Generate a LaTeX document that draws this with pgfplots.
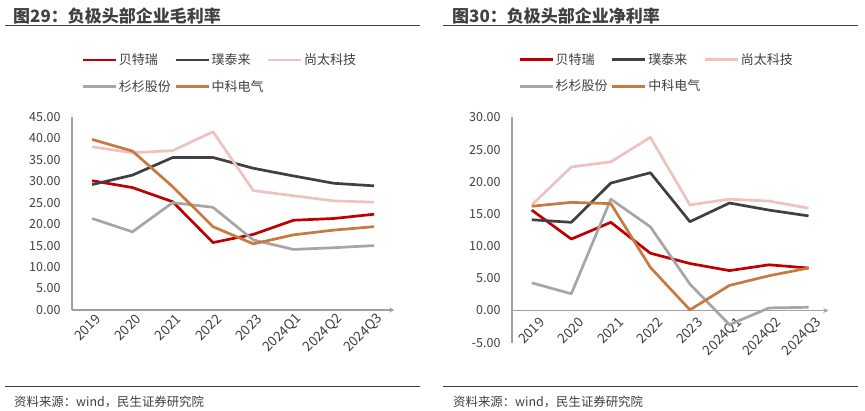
\documentclass[border=0pt]{standalone}
\usepackage{fontspec}
\setmainfont{Noto Sans CJK SC}
\usepackage{pgfplots}
\pgfplotsset{compat=1.18}

\definecolor{cRed}{HTML}{C00000}
\definecolor{cDark}{HTML}{404040}
\definecolor{cPink}{HTML}{EFC2C2}
\definecolor{cGray}{HTML}{A6A6A6}
\definecolor{cOrange}{HTML}{C67A42}
\definecolor{cText}{HTML}{404040}
\definecolor{cAxis}{HTML}{A0A0A0}

\pgfplotsset{
  panel/.style={
    scale only axis,
    xmin=-0.5, xmax=7.5,
    axis y line=left,
    axis line style={cAxis, line width=1.2pt, -},
    major tick length=0pt,
    xtick={0,...,7},
    xticklabels={2019,2020,2021,2022,2023,2024Q1,2024Q2,2024Q3},
    xticklabel style={rotate=45, anchor=east, font=\fontsize{13.5}{13.5}\selectfont, text=cText},
    yticklabel style={font=\fontsize{12.5}{12.5}\selectfont, text=cText, xshift=-8pt},
    /pgf/number format/.cd, fixed, fixed zerofill, precision=2, assume math mode=true,
    /pgfplots/.cd,
    every axis plot/.append style={line width=2.7pt, line join=round, no marks},
    legend columns=3,
    legend cell align=left,
    legend image code/.code={\draw[##1, line width=2.7pt] (0pt,0pt) -- (33pt,0pt);},
    legend style={draw=none, fill=none, font=\fontsize{13}{13}\selectfont, text=cText,
      anchor=north west, row sep=11pt,
      nodes={inner sep=1.5pt},
      /tikz/every even column/.append style={column sep=2pt}},
  }
}

\begin{document}
\begin{tikzpicture}[x=1pt,y=1pt]
\path[fill=white, use as bounding box] (0,0) rectangle (865,410);

% headers and footers
\node[anchor=west, font=\bfseries\fontsize{17}{17}\selectfont, text=cText, inner sep=0pt] at (13,394) {图29：负极头部企业毛利率};
\node[anchor=west, font=\bfseries\fontsize{17}{17}\selectfont, text=cText, inner sep=0pt] at (452,394) {图30：负极头部企业净利率};
\draw[cText, line width=1pt] (5,384) -- (420,384);
\draw[cText, line width=1pt] (443,384) -- (858,384);
\draw[cText, line width=1pt] (5,23.3) -- (420,23.3);
\draw[cText, line width=1pt] (443,23.3) -- (858,23.3);
\node[anchor=west, font=\fontsize{12.4}{12.4}\selectfont, text=cText, inner sep=0pt] at (14,8.5) {资料来源：wind，民生证券研究院};
\node[anchor=west, font=\fontsize{12.4}{12.4}\selectfont, text=cText, inner sep=0pt] at (453,8.5) {资料来源：wind，民生证券研究院};

% left: gross margin
\begin{axis}[panel,
  at={(72pt,100pt)}, anchor=south west,
  width=322.3pt, height=193.3pt,
  axis x line=bottom,
  xticklabel style={xshift=3pt, yshift=-9pt},
  ymin=0, ymax=45, ytick={0,5,...,45},
  legend style={at={(axis description cs:0.02,1.345)}},
]
\addplot[cRed] coordinates {(0,30.1) (1,28.5) (2,25.2) (3,15.7) (4,17.6) (5,20.9) (6,21.3) (7,22.3)};
\addlegendentry{贝特瑞}
\addplot[cDark] coordinates {(0,29.2) (1,31.4) (2,35.5) (3,35.5) (4,33.0) (5,31.2) (6,29.5) (7,28.9)};
\addlegendentry{璞泰来}
\addplot[cPink] coordinates {(0,38.0) (1,36.6) (2,37.1) (3,41.5) (4,27.8) (5,26.6) (6,25.4) (7,25.1)};
\addlegendentry{尚太科技}
\addplot[cGray] coordinates {(0,21.3) (1,18.2) (2,25.0) (3,23.9) (4,16.3) (5,14.1) (6,14.5) (7,15.0)};
\addlegendentry{杉杉股份}
\addplot[cOrange] coordinates {(0,39.7) (1,37.0) (2,28.7) (3,19.4) (4,15.4) (5,17.5) (6,18.6) (7,19.4)};
\addlegendentry{中科电气}
\end{axis}

% right: net margin
\begin{axis}[panel,
  at={(512pt,67.3pt)}, anchor=south west,
  width=316.3pt, height=225.3pt,
  axis x line=middle,
  xticklabel style={xshift=4pt, yshift=-14pt},
  ymin=-5, ymax=30, ytick={-5,0,...,30},
  legend style={at={(axis description cs:0.01,1.30)}},
]
\addplot[cRed] coordinates {(0,15.6) (1,11.1) (2,13.7) (3,8.9) (4,7.3) (5,6.2) (6,7.1) (7,6.6)};
\addlegendentry{贝特瑞}
\addplot[cDark] coordinates {(0,14.1) (1,13.7) (2,19.8) (3,21.4) (4,13.8) (5,16.7) (6,15.6) (7,14.7)};
\addlegendentry{璞泰来}
\addplot[cPink] coordinates {(0,16.4) (1,22.3) (2,23.1) (3,26.9) (4,16.4) (5,17.3) (6,17.0) (7,15.9)};
\addlegendentry{尚太科技}
\addplot[cGray] coordinates {(0,4.3) (1,2.6) (2,17.3) (3,13.0) (4,4.1) (5,-2.2) (6,0.4) (7,0.5)};
\addlegendentry{杉杉股份}
\addplot[cOrange] coordinates {(0,16.2) (1,16.8) (2,16.6) (3,6.7) (4,0.1) (5,3.9) (6,5.4) (7,6.6)};
\addlegendentry{中科电气}
\end{axis}
\end{tikzpicture}
\end{document}
